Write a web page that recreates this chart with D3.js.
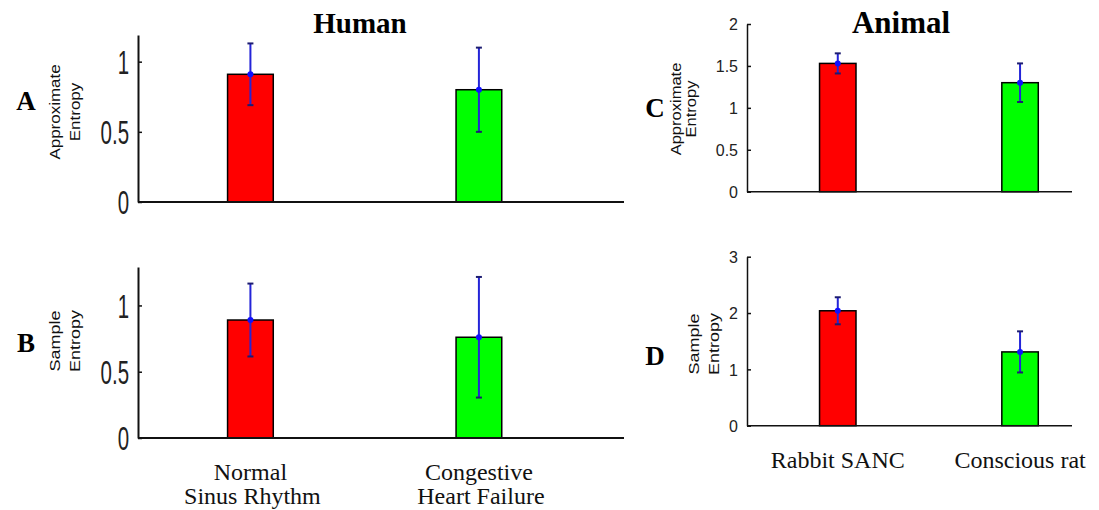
<!DOCTYPE html>
<html>
<head>
<meta charset="utf-8">
<script src="https://cdn.jsdelivr.net/npm/d3@7"></script>
<style>
body { margin: 0; background: #fff; }
</style>
</head>
<body>
<div id="chart-container"></div>
<script>
// groups and values
const humanGroups = [["Normal", "Sinus Rhythm"], ["Congestive", "Heart Failure"]];
const humanApEn = [0.91, 0.80];
const humanApEnErr = [0.22, 0.30];
const humanSampEn = [0.89, 0.76];
const humanSampEnErr = [0.275, 0.455];

const animalGroups = [["Rabbit SANC"], ["Conscious rat"]];
const animalApEn = [1.53, 1.30];
const animalApEnErr = [0.12, 0.23];
const animalSampEn = [2.04, 1.31];
const animalSampEnErr = [0.24, 0.365];

const humanTicks = [0, 0.5, 1];
const animalApTicks = [0, 0.5, 1, 1.5, 2];
const animalSampTicks = [0, 1, 2, 3];

const barColors = ["#ff0000", "#00ff00"];

const width = 1099;
const height = 510;

const svg = d3.select("#chart-container")
    .append("svg")
    .attr("width", width)
    .attr("height", height)
    .style("font-family", "Arial, 'Liberation Sans', sans-serif");

function drawPanel(p) {
    const x = d3.scaleLinear().domain(p.xDomain).range([p.left, p.right]);
    const y = d3.scaleLinear().domain(p.yDomain).range([p.bottom, p.top]);
    const g = svg.append("g");
    const bw = x(1.2) - x(1);

    // bars
    g.selectAll(".bar")
        .data(p.values)
        .enter()
        .append("rect")
        .attr("x", (d, i) => x(i + 1) - bw / 2)
        .attr("y", d => y(d))
        .attr("width", bw)
        .attr("height", d => y(0) - y(d))
        .attr("fill", (d, i) => barColors[i])
        .attr("stroke", "#000")
        .attr("stroke-width", 1.5);

    // y axis
    const yAxis = d3.axisLeft(y)
        .tickValues(p.ticks)
        .tickSizeInner(-4)
        .tickSizeOuter(0)
        .tickFormat(d3.format("~g"));
    const ax = g.append("g")
        .attr("transform", `translate(${p.left},0)`)
        .call(yAxis);
    ax.select(".domain").attr("stroke", "#111").attr("stroke-width", p.axisWidth);
    ax.selectAll(".tick line").attr("stroke", "#111").attr("stroke-width", 1.5);
    ax.selectAll(".tick text")
        .attr("fill", "#222")
        .style("font-size", p.tickSize + "px")
        .attr("x", -9 / p.tickScale)
        .attr("dy", "0.36em")
        .attr("transform", `scale(${p.tickScale},1)`);

    // x axis baseline
    g.append("line")
        .attr("x1", p.left)
        .attr("x2", p.right)
        .attr("y1", y(0))
        .attr("y2", y(0))
        .attr("stroke", "#111")
        .attr("stroke-width", p.axisWidth);

    // error bars
    const eb = g.selectAll(".err")
        .data(p.values)
        .enter()
        .append("g");
    eb.append("line")
        .attr("x1", (d, i) => x(i + 1))
        .attr("x2", (d, i) => x(i + 1))
        .attr("y1", (d, i) => y(d + p.errors[i]))
        .attr("y2", (d, i) => y(d - p.errors[i]))
        .attr("stroke", "#2424d8")
        .attr("stroke-width", 2);
    [1, -1].forEach(s => {
        eb.append("line")
            .attr("x1", (d, i) => x(i + 1) - 3)
            .attr("x2", (d, i) => x(i + 1) + 3)
            .attr("y1", (d, i) => y(d + s * p.errors[i]))
            .attr("y2", (d, i) => y(d + s * p.errors[i]))
            .attr("stroke", "#1c1c70")
            .attr("stroke-width", 2);
    });
    eb.append("circle")
        .attr("cx", (d, i) => x(i + 1))
        .attr("cy", d => y(d))
        .attr("r", 3)
        .attr("fill", "#1010ff");

    // y label, two lines, rotated
    const lab = g.append("text")
        .attr("transform", `translate(${p.labelX},${p.labelY}) rotate(-90) scale(${p.labelScale},1)`)
        .attr("text-anchor", "middle")
        .style("font-size", p.labelSize + "px")
        .attr("fill", "#111");
    p.label.forEach((t, k) => {
        lab.append("tspan")
            .attr("x", 0)
            .attr("y", k * p.labelGap)
            .text(t);
    });

    // panel letter
    g.append("text")
        .attr("x", p.letterX)
        .attr("y", p.letterY)
        .attr("text-anchor", "middle")
        .style("font-family", "'Times New Roman', 'Liberation Serif', serif")
        .style("font-weight", "bold")
        .style("font-size", "27px")
        .text(p.letter);

    // category labels
    if (p.groups) {
        p.groups.forEach((lines, i) => {
            lines.forEach((t, k) => {
                g.append("text")
                    .attr("x", x(i + 1) + (k ? 2 : 0))
                    .attr("y", p.groupY + k * p.groupGap)
                    .attr("text-anchor", "middle")
                    .style("font-family", "'Times New Roman', 'Liberation Serif', serif")
                    .style("font-size", p.groupSize + "px")
                    .attr("fill", "#111")
                    .text(t);
            });
        });
    }
}

// A
drawPanel({
    values: humanApEn, errors: humanApEnErr, ticks: humanTicks,
    xDomain: [0.508, 2.635], yDomain: [0, 1.19],
    left: 138, right: 624, top: 35, bottom: 202,
    axisWidth: 2, tickSize: 33, tickScale: 0.62,
    label: ["Approximate", "Entropy"], labelX: 60, labelY: 112, labelScale: 1.13, labelSize: 15, labelGap: 20,
    letter: "A", letterX: 26, letterY: 110
});
// B
drawPanel({
    values: humanSampEn, errors: humanSampEnErr, ticks: humanTicks,
    xDomain: [0.508, 2.635], yDomain: [0, 1.29],
    left: 138, right: 624, top: 267, bottom: 438,
    axisWidth: 2, tickSize: 33, tickScale: 0.62,
    label: ["Sample", "Entropy"], labelX: 60, labelY: 341, labelScale: 1.2, labelSize: 15, labelGap: 20,
    letter: "B", letterX: 26, letterY: 352,
    groups: humanGroups, groupY: 480, groupGap: 24, groupSize: 24
});
// C
drawPanel({
    values: animalApEn, errors: animalApEnErr, ticks: animalApTicks,
    xDomain: [0.502, 2.285], yDomain: [0, 2],
    left: 747, right: 1072, top: 24, bottom: 191.7,
    axisWidth: 1.5, tickSize: 16, tickScale: 1,
    label: ["Approximate", "Entropy"], labelX: 681, labelY: 109, labelScale: 1.18, labelSize: 14, labelGap: 15,
    letter: "C", letterX: 655, letterY: 117
});
// D
drawPanel({
    values: animalSampEn, errors: animalSampEnErr, ticks: animalSampTicks,
    xDomain: [0.502, 2.285], yDomain: [0, 3],
    left: 747, right: 1072, top: 256.7, bottom: 425.7,
    axisWidth: 1.5, tickSize: 16, tickScale: 1,
    label: ["Sample", "Entropy"], labelX: 699, labelY: 344, labelScale: 1.2, labelSize: 15, labelGap: 20,
    letter: "D", letterX: 655, letterY: 365,
    groups: animalGroups, groupY: 468, groupGap: 0, groupSize: 24
});

// section titles
svg.append("text")
    .attr("x", 360)
    .attr("y", 33)
    .attr("text-anchor", "middle")
    .style("font-family", "'Times New Roman', 'Liberation Serif', serif")
    .style("font-weight", "bold")
    .style("font-size", "29px")
    .text("Human");

svg.append("text")
    .attr("x", 901)
    .attr("y", 33)
    .attr("text-anchor", "middle")
    .style("font-family", "'Times New Roman', 'Liberation Serif', serif")
    .style("font-weight", "bold")
    .style("font-size", "31px")
    .text("Animal");
</script>
</body>
</html>
